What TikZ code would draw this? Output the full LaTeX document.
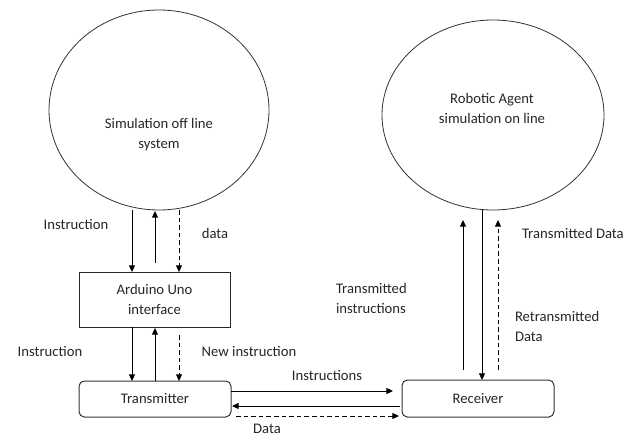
\documentclass[tikz,border=0pt]{standalone}
\usepackage{fontspec}
\setmainfont{Carlito}
\usetikzlibrary{arrows.meta,shapes.geometric,calc}
\begin{document}
\begin{tikzpicture}[x=0.75pt,y=-0.75pt,
  every node/.style={font=\fontsize{11}{15}\selectfont, text=black!85, inner sep=0pt, outer sep=0pt},
  sim/.style={draw=black!80, line width=0.6pt, ellipse},
  blk/.style={draw=black!85, line width=0.75pt, align=center},
  rnd/.style={draw=black!80, line width=0.75pt, rounded corners=4pt, align=center},
  lbl/.style={align=left},
  conn/.style={draw=black, line width=0.75pt, -{Triangle[length=5pt,width=4.5pt]}},
  dconn/.style={conn, dash pattern=on 3.5pt off 2.2pt}
]
\useasboundingbox (0,0) rectangle (634,435);

% main shapes
\node[sim, minimum width=165pt, minimum height=150pt] (lsim) at (159,110) {};
\node[sim, minimum width=166.5pt, minimum height=142.5pt] (rsim) at (493,115) {};
\node[align=center] (ltxt) at (159,134.5) {Simulation off line\\system};
\node[align=center] (rtxt) at (492,108) {Robotic Agent\\simulation on line};

\node[blk, minimum width=113.25pt, minimum height=41.25pt] (ard) at (154.5,299.5) {Arduino Uno\\interface};
\node[rnd, minimum width=114pt, minimum height=27pt] (tx) at (155,399) {Transmitter};
\node[rnd, minimum width=114pt, minimum height=27.75pt] (rx) at (478,398.5) {Receiver};

% columns / rows
\coordinate (c1) at (132,0);
\coordinate (c2) at (155,0);
\coordinate (c3) at (179,0);
\coordinate (c4) at (463,0);
\coordinate (c5) at (482,0);
\coordinate (c6) at (498,0);
\coordinate (r1) at (0,391);
\coordinate (r2) at (0,406);
\coordinate (r3) at (0,416);

% left column arrows
\draw[conn] (c1 |- lsim.south) -- (c1 |- ard.north);
\draw[conn] ($(c2 |- ard.north)+(0,-9)$) -- ($(c2 |- lsim.south)+(0,1)$);
\draw[dconn] (c3 |- lsim.south) -- (c3 |- ard.north);

\draw[conn] (c1 |- ard.south) -- (c1 |- tx.north);
\draw[conn] (c2 |- tx.north) -- ($(c2 |- ard.south)+(0,1)$);
\draw[dconn] ($(c3 |- ard.south)+(0,8)$) -- (c3 |- tx.north);

% right column arrows
\draw[conn] ($(c4 |- rx.north)+(0,-10)$) -- ($(c4 |- rsim.south)+(0,10)$);
\draw[conn] (c5 |- rsim.south) -- (c5 |- rx.north);
\draw[dconn] ($(c6 |- rx.north)+(0,-10)$) -- ($(c6 |- rsim.south)+(0,10)$);

% horizontal arrows
\draw[conn] (r1 -| tx.east) -- ($(r1 -| rx.west)+(-9,0)$);
\draw[conn] ($(r2 -| rx.west)+(-2,0)$) -- ($(r2 -| tx.east)+(1,0)$);
\draw[dconn] ($(r3 -| tx.east)+(5,0)$) -- ($(r3 -| rx.west)+(-3,0)$);

% labels
\node (l1) at (76,224) {Instruction};
\node (l2) at (215,233) {data};
\node (l3) at (50,351) {Instruction};
\node (l4) at (249,351) {New instruction};
\node (l5) at (327,375) {Instructions};
\node (l6) at (267,428.5) {Data};
\node[lbl, anchor=west] (l7) at (336,298) {Transmitted\\instructions};
\node[anchor=west] (l8) at (522,233) {Transmitted Data};
\node[lbl, anchor=west] (l9) at (515,326) {Retransmitted\\Data};
\end{tikzpicture}
\end{document}
